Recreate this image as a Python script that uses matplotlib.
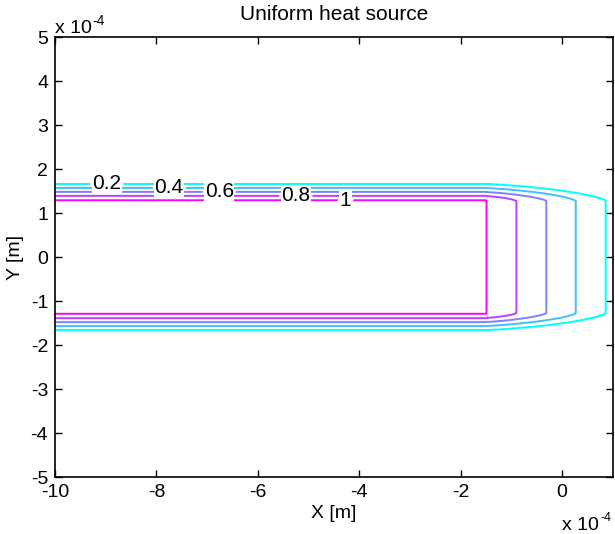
import numpy as np
import matplotlib
matplotlib.use("Agg")
import matplotlib.pyplot as plt
from matplotlib.ticker import FuncFormatter

plt.rcParams['font.family'] = ['Liberation Sans', 'DejaVu Sans']
plt.rcParams['axes.unicode_minus'] = False

# Temperature levels and where each contour sits (units of 1e-4 m)
levels = [0.2, 0.4, 0.6, 0.8, 1.0]
half_width = [1.66, 1.57, 1.48, 1.39, 1.29]    # y of the flat part of each contour
front_x = [0.86, 0.27, -0.31, -0.90, -1.49]   # x where each contour crosses y = 0
source_half = 1.27                            # half width of the heat source
source_end = -1.50                            # x of the source's right edge
label_x = [-8.98, -7.75, -6.76, -5.25, -4.27]
SCALE = 1e-4

# field built from distances outside the source rectangle
x = np.linspace(-10, 1, 1101)
y = np.linspace(-5, 5, 1001)
X, Y = np.meshgrid(x, y)
u = np.clip(np.abs(Y) - source_half, 0, None)
v = np.clip(X - source_end, 0, None)
du = np.array(half_width[::-1]) - source_half
dv = np.array(front_x[::-1]) - source_end
v_eq = np.interp(v, np.r_[0, dv, dv[-1] + 10], np.r_[0, du, du[-1] + 10 * du[-1] / dv[-1]])
p = 1.5
rho = (u ** p + v_eq ** p) ** (1 / p)
T = np.interp(rho, np.r_[0, du, 10], np.r_[1.05, levels[::-1], -2])

fig = plt.figure(figsize=(6.15, 5.34), dpi=100)
ax = fig.add_axes([0.0894, 0.1067, 0.907, 0.824])

cs = ax.contour(X * SCALE, Y * SCALE, T, levels=levels, cmap='cool',
                vmin=0.2, vmax=1.0, linewidths=1.4)
pos = [(lx * SCALE, h * SCALE) for lx, h in zip(label_x, half_width)]
labels = ax.clabel(cs, levels, inline=True, inline_spacing=2, fontsize=15,
                   fmt=lambda val: '%g' % val, manual=pos, colors='black')
for t in labels:
    t.set_rotation(0)
    t.set_bbox(dict(facecolor='white', edgecolor='none', pad=0.5))
    t.set_zorder(5)

ax.set_xlim(-10 * SCALE, 1 * SCALE)
ax.set_ylim(-5 * SCALE, 5 * SCALE)
ax.set_xticks(np.arange(-10, 1, 2) * SCALE)
ax.set_yticks(np.arange(-5, 6, 1) * SCALE)
fmt = FuncFormatter(lambda val, pos: '%g' % round(val / SCALE, 6))
ax.xaxis.set_major_formatter(fmt)
ax.yaxis.set_major_formatter(fmt)
ax.tick_params(direction='in', top=True, right=True, labelsize=14, length=5,
               width=1, pad=5)
for sp in ax.spines.values():
    sp.set_linewidth(1.2)

ax.set_title('Uniform heat source', fontsize=15, pad=12)
ax.set_xlabel('X [m]', fontsize=14, labelpad=3)
ax.set_ylabel('Y [m]', fontsize=14, labelpad=5)

# axis multipliers
fig.text(0.089, 0.938, 'x 10', fontsize=14, va='baseline', ha='left')
fig.text(0.150, 0.953, '-4', fontsize=10, va='baseline', ha='left')
fig.text(0.914, 0.008, 'x 10', fontsize=14, va='baseline', ha='left')
fig.text(0.977, 0.024, '-4', fontsize=9, va='baseline', ha='left')

fig.savefig('out.png', dpi=100)
